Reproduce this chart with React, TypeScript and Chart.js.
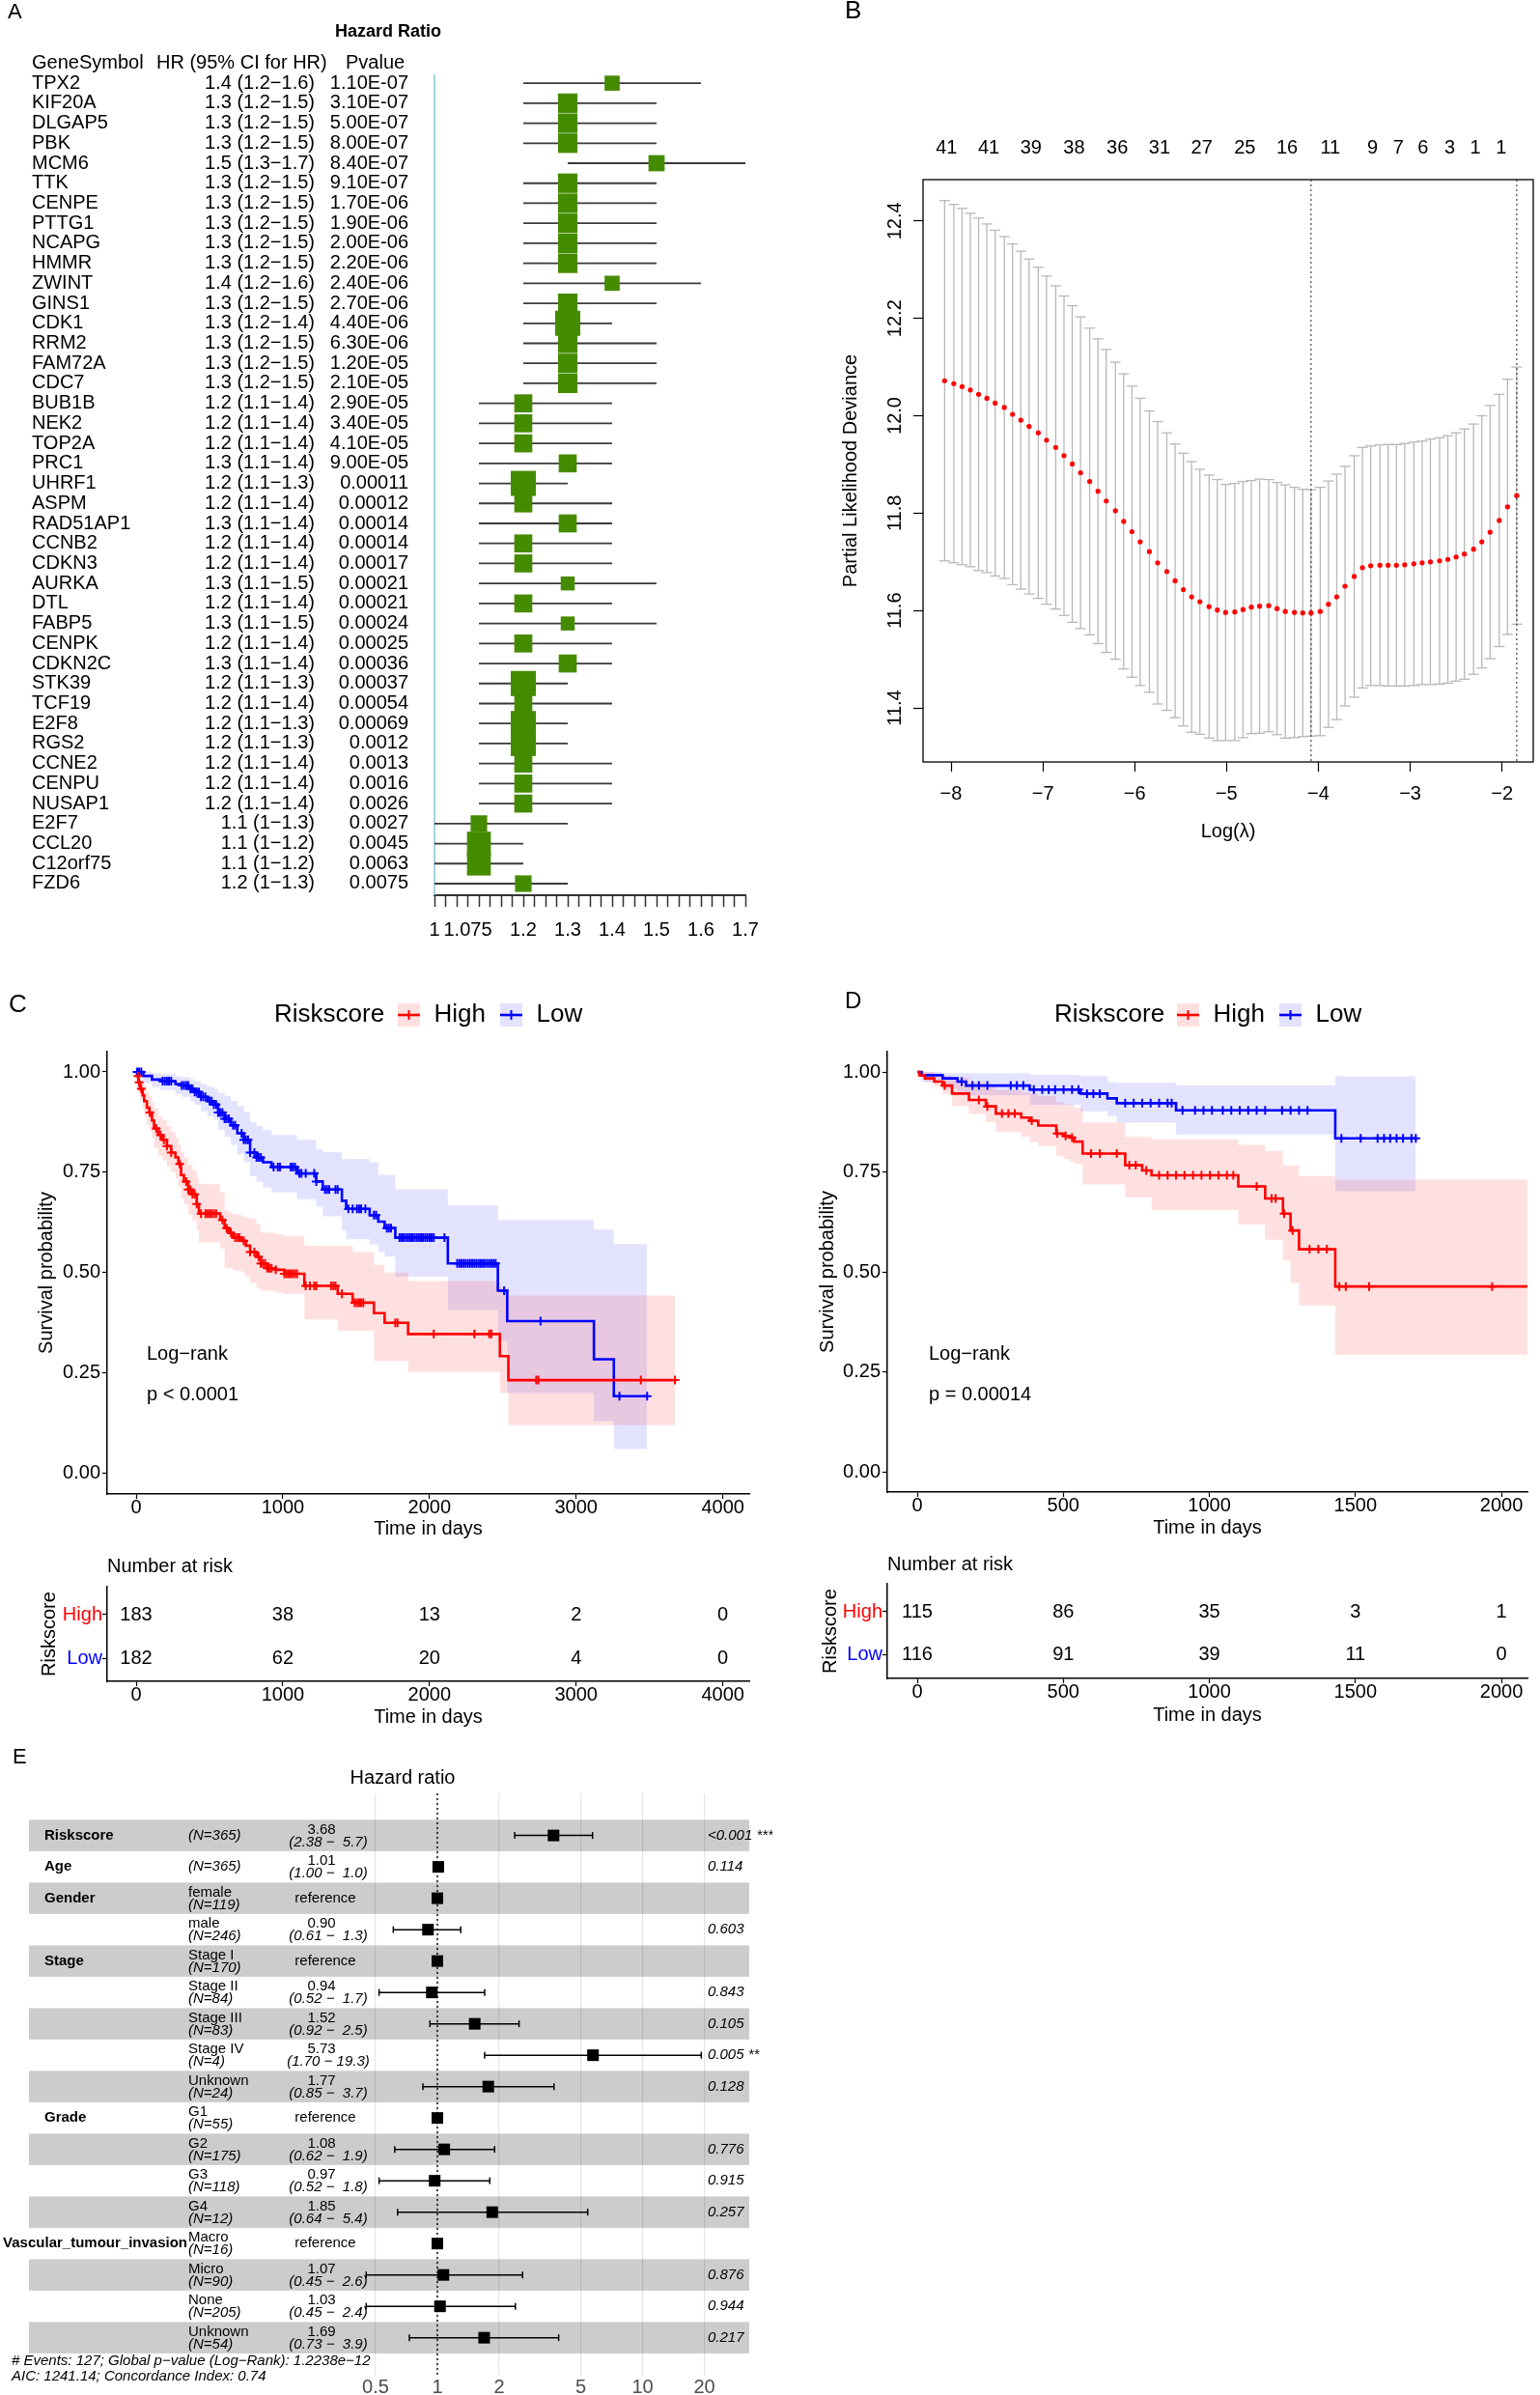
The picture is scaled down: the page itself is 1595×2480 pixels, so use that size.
import React, { useEffect, useRef } from 'react';
import { Chart, registerables } from 'chart.js';

Chart.register(...registerables);

const FONT = '"Liberation Sans", Arial, Helvetica, sans-serif';

// ================= Panel A : univariate Cox forest =================
const geneSymbols = ['TPX2','KIF20A','DLGAP5','PBK','MCM6','TTK','CENPE','PTTG1','NCAPG','HMMR','ZWINT','GINS1','CDK1','RRM2','FAM72A','CDC7','BUB1B','NEK2','TOP2A','PRC1','UHRF1','ASPM','RAD51AP1','CCNB2','CDKN3','AURKA','DTL','FABP5','CENPK','CDKN2C','STK39','TCF19','E2F8','RGS2','CCNE2','CENPU','NUSAP1','E2F7','CCL20','C12orf75','FZD6'];
const geneHR = [1.4,1.3,1.3,1.3,1.5,1.3,1.3,1.3,1.3,1.3, 1.4,1.3,1.3,1.3,1.3,1.3,1.2,1.2,1.2,1.3, 1.2,1.2,1.3,1.2,1.2,1.3,1.2,1.3,1.2,1.3, 1.2,1.2,1.2,1.2,1.2,1.2,1.2,1.1,1.1,1.1, 1.2];
const geneLower = [1.2,1.2,1.2,1.2,1.3,1.2,1.2,1.2,1.2,1.2, 1.2,1.2,1.2,1.2,1.2,1.2,1.1,1.1,1.1,1.1, 1.1,1.1,1.1,1.1,1.1,1.1,1.1,1.1,1.1,1.1, 1.1,1.1,1.1,1.1,1.1,1.1,1.1,1,1,1, 1];
const geneUpper = [1.6,1.5,1.5,1.5,1.7,1.5,1.5,1.5,1.5,1.5, 1.6,1.5,1.4,1.5,1.5,1.5,1.4,1.4,1.4,1.4, 1.3,1.4,1.4,1.4,1.4,1.5,1.4,1.5,1.4,1.4, 1.3,1.4,1.3,1.3,1.4,1.4,1.4,1.3,1.2,1.2, 1.3];
const genePvalue = ['1.10E-07','3.10E-07','5.00E-07','8.00E-07','8.40E-07','9.10E-07','1.70E-06','1.90E-06','2.00E-06','2.20E-06','2.40E-06','2.70E-06','4.40E-06','6.30E-06','1.20E-05','2.10E-05','2.90E-05','3.40E-05','4.10E-05','9.00E-05','0.00011','0.00012','0.00014','0.00014','0.00017','0.00021','0.00021','0.00024','0.00025','0.00036','0.00037','0.00054','0.00069','0.0012','0.0013','0.0016','0.0026','0.0027','0.0045','0.0063','0.0075'];
const geneAxisLabels = [1, 1.075, 1.2, 1.3, 1.4, 1.5, 1.6, 1.7];

// ================= Panel B : LASSO cross-validation =================
const lassoLogLambda = [-8.07,-7.97,-7.88,-7.79,-7.70,-7.61,-7.52,-7.42,-7.33,-7.24,
  -7.15,-7.05,-6.96,-6.86,-6.77,-6.68,-6.59,-6.49,-6.40,-6.31,
  -6.21,-6.12,-6.03,-5.94,-5.84,-5.75,-5.65,-5.56,-5.47,-5.38,
  -5.29,-5.19,-5.10,-5.01,-4.91,-4.82,-4.73,-4.64,-4.54,-4.45,
  -4.36,-4.26,-4.17,-4.08,-3.98,-3.89,-3.80,-3.71,-3.61,-3.52,
  -3.43,-3.33,-3.24,-3.15,-3.06,-2.96,-2.87,-2.78,-2.68,-2.59,
  -2.50,-2.41,-2.31,-2.22,-2.13,-2.03,-1.94,-1.84];
const lassoCvMean = [12.072,12.066,12.060,12.053,12.044,12.036,12.026,12.017,12.003,11.991,
  11.978,11.965,11.950,11.935,11.918,11.901,11.883,11.865,11.845,11.825,
  11.805,11.783,11.762,11.741,11.721,11.698,11.680,11.661,11.643,11.628,
  11.618,11.608,11.601,11.596,11.597,11.602,11.607,11.609,11.610,11.604,
  11.598,11.596,11.595,11.595,11.598,11.613,11.628,11.650,11.670,11.688,
  11.692,11.693,11.693,11.693,11.694,11.696,11.698,11.700,11.702,11.705,
  11.710,11.716,11.726,11.741,11.761,11.785,11.813,11.836];
const lassoCvSd = [0.370,0.368,0.366,0.363,0.362,0.358,0.355,0.351,0.350,0.347,
  0.344,0.340,0.337,0.332,0.328,0.325,0.320,0.315,0.313,0.311,
  0.305,0.303,0.299,0.295,0.289,0.290,0.285,0.281,0.280,0.278,
  0.272,0.270,0.268,0.263,0.264,0.263,0.260,0.261,0.259,0.259,
  0.260,0.257,0.254,0.253,0.255,0.253,0.252,0.246,0.248,0.247,
  0.246,0.247,0.248,0.248,0.249,0.250,0.250,0.252,0.253,0.254,
  0.255,0.257,0.257,0.259,0.260,0.259,0.262,0.264];
const lassoTopAt = [-8.05,-7.59,-7.13,-6.66,-6.19,-5.73,-5.27,-4.80,-4.34,-3.87,-3.41,-3.13,-2.86,-2.57,-2.29,-2.01];
const lassoTopLabels = ['41','41','39','38','36','31','27','25','16','11','9','7','6','3','1','1'];
const lassoXTicks = [-8,-7,-6,-5,-4,-3,-2];
const lassoYTicks = [11.4,11.6,11.8,12.0,12.2,12.4];
const lassoLambdaMin = -4.08;
const lassoLambda1se = -1.84;

// ================= Panel C : KM training set =================
const cHighTime = [0,6,15,26,44,55,73,90,108,122,151,180,210,239,268,288,306,326,355,384,413,428,573,603,632,661,719,748,777,821,850,894,952,1010,1147,1374,1476,1621,1694,1854,2480,2538,3674];
const cHighSurv = [1,0.990,0.974,0.958,0.942,0.927,0.911,0.899,0.879,0.859,0.843,0.831,0.815,0.799,0.787,0.771,0.743,0.727,0.707,0.695,0.671,0.647,0.631,0.611,0.599,0.587,0.579,0.567,0.551,0.539,0.523,0.511,0.507,0.497,0.467,0.447,0.425,0.399,0.375,0.347,0.292,0.232,0.232];
const cHighUpper = [1,1,0.995,0.985,0.975,0.965,0.95,0.94,0.925,0.91,0.89,0.88,0.865,0.85,0.835,0.82,0.80,0.785,0.77,0.755,0.735,0.72,0.70,0.655,0.65,0.645,0.64,0.637,0.635,0.62,0.60,0.599,0.595,0.591,0.567,0.567,0.551,0.519,0.50,0.479,0.463,0.443,0.443];
const cHighLower = [1,0.97,0.95,0.93,0.91,0.89,0.87,0.855,0.835,0.81,0.79,0.78,0.765,0.75,0.735,0.715,0.685,0.67,0.645,0.63,0.605,0.575,0.56,0.511,0.51,0.505,0.50,0.49,0.475,0.46,0.455,0.455,0.45,0.447,0.383,0.355,0.355,0.28,0.28,0.252,0.20,0.12,0.12];
const cHighCensor = [12,20,35,93,137,166,189,210,239,297,341,355,370,384,399,413,442,472,486,501,515,530,545,588,617,646,675,690,704,734,777,806,835,850,865,879,894,908,923,952,1010,1025,1039,1054,1068,1083,1097,1156,1185,1214,1228,1330,1345,1359,1403,1490,1505,1520,1534,1549,1767,1782,2029,2306,2407,2422,2728,2742,3441,3674];
const cLowTime = [0,49,108,166,268,311,370,399,442,486,530,559,603,646,690,734,777,821,865,923,1097,1228,1272,1403,1432,1592,1651,1694,1767,2125,2466,2530,3121,3257,3484];
const cLowSurv = [1,0.990,0.981,0.977,0.970,0.966,0.958,0.950,0.938,0.927,0.919,0.899,0.883,0.867,0.847,0.831,0.799,0.787,0.775,0.763,0.747,0.727,0.707,0.679,0.659,0.643,0.627,0.611,0.587,0.523,0.455,0.379,0.284,0.192,0.192];
const cLowUpper = [1,1,0.997,0.995,0.99,0.987,0.982,0.978,0.97,0.963,0.958,0.948,0.94,0.928,0.915,0.90,0.875,0.865,0.855,0.843,0.831,0.807,0.80,0.783,0.783,0.775,0.743,0.743,0.707,0.667,0.631,0.631,0.607,0.571,0.571];
const cLowLower = [1,0.972,0.962,0.955,0.945,0.938,0.928,0.918,0.902,0.89,0.88,0.856,0.838,0.818,0.795,0.775,0.74,0.726,0.712,0.70,0.683,0.665,0.64,0.605,0.583,0.57,0.551,0.54,0.49,0.407,0.33,0.20,0.13,0.06,0.06];
const cLowCensor = [6,20,35,180,195,210,224,239,311,326,341,355,370,384,399,413,428,442,457,472,501,515,530,545,559,573,588,603,617,632,661,675,719,734,748,763,777,806,821,835,850,937,966,981,1054,1068,1083,1112,1127,1156,1214,1228,1287,1301,1316,1359,1374,1447,1476,1505,1520,1534,1563,1621,1636,1709,1723,1738,1796,1811,1825,1840,1854,1869,1883,1898,1913,1927,1942,1956,1971,1985,2000,2014,2029,2102,2189,2204,2218,2233,2247,2262,2276,2291,2306,2320,2335,2349,2364,2378,2393,2407,2422,2437,2451,2509,2757,3295,3484];
const cRiskTimes = [0,1000,2000,3000,4000];
const cRiskHigh = [183,38,13,2,0];
const cRiskLow = [182,62,20,4,0];

// ================= Panel D : KM validation set =================
const dHighTime = [0,7,26,58,87,119,177,235,269,356,385,414,476,501,523,537,566,712,770,802,1099,1191,1252,1278,1307,1431,2200];
const dHighSurv = [1,0.992,0.984,0.976,0.966,0.946,0.930,0.914,0.896,0.886,0.878,0.866,0.846,0.840,0.836,0.826,0.796,0.767,0.754,0.742,0.714,0.684,0.646,0.604,0.557,0.464,0.464];
const dHighUpper = [1,1,1,0.99,0.99,0.986,0.975,0.962,0.955,0.95,0.945,0.94,0.925,0.92,0.918,0.91,0.874,0.838,0.838,0.832,0.818,0.802,0.766,0.766,0.74,0.731,0.731];
const dHighLower = [1,0.985,0.975,0.965,0.945,0.915,0.895,0.875,0.85,0.838,0.825,0.815,0.79,0.782,0.776,0.77,0.719,0.687,0.687,0.655,0.619,0.581,0.529,0.473,0.417,0.294,0.294];
const dHighCensor = [94,211,240,290,312,334,392,479,508,530,595,625,683,726,748,784,828,857,886,915,944,973,1002,1031,1060,1082,1162,1213,1227,1256,1285,1343,1373,1402,1445,1467,1547,1968];
const dLowTime = [0,15,87,138,167,385,559,651,683,886,1431,1707];
const dLowSurv = [1,0.992,0.984,0.976,0.966,0.956,0.946,0.934,0.922,0.904,0.834,0.834];
const dLowUpper = [1,1,0.997,0.997,0.997,0.993,0.99,0.975,0.973,0.966,0.989,0.989];
const dLowLower = [1,0.975,0.958,0.95,0.942,0.918,0.902,0.89,0.874,0.844,0.702,0.702];
const dLowCensor = [152,189,211,240,320,341,363,399,428,450,472,501,530,552,581,603,625,712,741,770,799,828,857,871,908,951,980,1009,1046,1075,1104,1133,1162,1191,1249,1278,1307,1336,1452,1518,1576,1598,1619,1641,1663,1692,1707];
const dRiskTimes = [0,500,1000,1500,2000];
const dRiskHigh = [115,86,35,3,1];
const dRiskLow = [116,91,39,11,0];

const kmYTicks = [0, 0.25, 0.5, 0.75, 1];

// ================= Panel E : multivariate Cox forest =================
const coxVariable = ['Riskscore','Age','Gender','','Stage','','','','','Grade','','','','Vascular_tumour_invasion','','',''];
const coxLevel = ['','','female','male','Stage I','Stage II','Stage III','Stage IV','Unknown','G1','G2','G3','G4','Macro','Micro','None','Unknown'];
const coxN = [365,365,119,246,170,84,83,4,24,55,175,118,12,16,90,205,54];
const coxHR = [3.68,1.01,null,0.90,null,0.94,1.52,5.73,1.77,null,1.08,0.97,1.85,null,1.07,1.03,1.69];
const coxLower = [2.38,1.00,null,0.61,null,0.52,0.92,1.70,0.85,null,0.62,0.52,0.64,null,0.45,0.45,0.73];
const coxUpper = [5.7,1.0,null,1.3,null,1.7,2.5,19.3,3.7,null,1.9,1.8,5.4,null,2.6,2.4,3.9];
const coxP = ['<0.001','0.114','','0.603','','0.843','0.105','0.005','0.128','','0.776','0.915','0.257','','0.876','0.944','0.217'];
const coxStars = ['***','','','','','','','**','','','','','','','','',''];
const coxAxisTicks = [0.5, 1, 2, 5, 10, 20];

// ================= helpers =================
function font(size, weight = 'normal', style = 'normal') {
  return `${style} ${weight} ${size}px ${FONT}`;
}
function text(ctx, s, x, y, fnt, color = '#000', align = 'left', rotate = 0) {
  ctx.save();
  ctx.font = fnt;
  ctx.fillStyle = color;
  ctx.textAlign = align;
  ctx.textBaseline = 'middle';
  if (rotate) {
    ctx.translate(x, y);
    ctx.rotate(rotate);
    ctx.fillText(s, 0, 0);
  } else {
    ctx.fillText(s, x, y);
  }
  ctx.restore();
}
function seg(ctx, x1, y1, x2, y2) {
  ctx.beginPath();
  ctx.moveTo(x1, y1);
  ctx.lineTo(x2, y2);
  ctx.stroke();
}
function survAt(times, surv, t) {
  let s = surv[0];
  for (let i = 0; i < times.length; i++) {
    if (times[i] <= t) s = surv[i];
    else break;
  }
  return s;
}
const tickFont = (size) => ({ family: FONT, size });
const fixedTicks = (vals) => (axis) => {
  axis.ticks = vals.map((v) => ({ value: v }));
};
const minusFmt = (v) => (v < 0 ? '\u2212' + Math.abs(v) : String(v));

function ChartCanvas({ left, top, width, height, build }) {
  const ref = useRef(null);
  useEffect(() => {
    const chart = new Chart(ref.current, build());
    return () => chart.destroy();
  }, []);
  return (
    <canvas
      ref={ref}
      width={width}
      height={height}
      style={{ position: 'absolute', left, top, width, height }}
    />
  );
}

const baseOptions = {
  responsive: false,
  animation: false,
  devicePixelRatio: 1,
  events: [],
};

// ================= Panel A =================
function buildA() {
  const boxSide = geneLower.map((lo, i) => Math.min(26, 4.5 / Math.log(geneUpper[i] / lo)));
  const aTicks = [];
  for (let k = 0; k <= 28; k++) aTicks.push(Math.round((1 + k * 0.025) * 1000) / 1000);
  const plugin = {
    id: 'forestA',
    beforeDatasetsDraw(chart) {
      const { ctx, chartArea: ca, scales } = chart;
      const x = scales.x, y = scales.y;
      ctx.save();
      ctx.strokeStyle = '#87c9d3';
      ctx.lineWidth = 1.5;
      seg(ctx, x.getPixelForValue(1), ca.top, x.getPixelForValue(1), ca.bottom);
      ctx.strokeStyle = '#3a3a3a';
      ctx.lineWidth = 1.8;
      geneSymbols.forEach((_, i) => {
        const yy = y.getPixelForValue(i + 1);
        seg(ctx, x.getPixelForValue(geneLower[i]), yy, x.getPixelForValue(geneUpper[i]), yy);
      });
      ctx.restore();
    },
    afterDraw(chart) {
      const { ctx, scales } = chart;
      const y = scales.y;
      text(ctx, 'A', 8, 13, font(22));
      text(ctx, 'Hazard Ratio', 402, 33, font(18, 'bold'), '#000', 'center');
      text(ctx, 'GeneSymbol', 33, 65, font(20));
      text(ctx, 'HR (95% CI for HR)', 162, 65, font(20));
      text(ctx, 'Pvalue', 358, 65, font(20));
      geneSymbols.forEach((g, i) => {
        const yy = y.getPixelForValue(i + 1);
        text(ctx, g, 33, yy, font(20));
        text(ctx, `${geneHR[i].toFixed(1)} (${geneLower[i]}\u2212${geneUpper[i]})`, 326, yy, font(20), '#000', 'right');
        text(ctx, genePvalue[i], 423, yy, font(20), '#000', 'right');
      });
    },
  };
  return {
    type: 'scatter',
    data: {
      datasets: [{
        data: geneHR.map((v, i) => ({ x: v, y: i + 1 })),
        pointStyle: 'rect',
        pointRadius: boxSide.map((s) => s / Math.SQRT2),
        pointBackgroundColor: '#458B00',
        pointBorderWidth: 0,
      }],
    },
    options: {
      ...baseOptions,
      layout: { padding: { left: 450, right: 28, top: 77, bottom: 0 } },
      plugins: { legend: { display: false }, tooltip: { enabled: false } },
      scales: {
        x: {
          type: 'linear', min: 1, max: 1.7,
          afterBuildTicks: fixedTicks(aTicks),
          afterFit: (s) => { s.height = 63; },
          ticks: {
            autoSkip: false, maxRotation: 0, padding: 12, color: '#000', font: tickFont(20),
            callback: (v) => (geneAxisLabels.some((l) => Math.abs(l - v) < 1e-6) ? String(v) : ''),
          },
          grid: { drawOnChartArea: false, drawTicks: true, tickLength: 12, tickColor: '#333', tickWidth: 1.5 },
          border: { display: true, color: '#333', width: 2 },
        },
        y: { type: 'linear', min: 0.56, max: 41.58, reverse: true, display: false },
      },
    },
    plugins: [plugin],
  };
}

// ================= Panel B =================
function buildB() {
  const plugin = {
    id: 'lasso',
    beforeDatasetsDraw(chart) {
      const { ctx, chartArea: ca, scales } = chart;
      const x = scales.x, y = scales.y;
      ctx.save();
      ctx.strokeStyle = '#b8b8b8';
      ctx.lineWidth = 1.3;
      lassoLogLambda.forEach((l, i) => {
        const xx = x.getPixelForValue(l);
        const y1 = y.getPixelForValue(lassoCvMean[i] - lassoCvSd[i]);
        const y2 = y.getPixelForValue(lassoCvMean[i] + lassoCvSd[i]);
        seg(ctx, xx, y1, xx, y2);
        seg(ctx, xx - 5.5, y1, xx + 5.5, y1);
        seg(ctx, xx - 5.5, y2, xx + 5.5, y2);
      });
      ctx.strokeStyle = '#444';
      ctx.lineWidth = 1.2;
      ctx.setLineDash([2, 3]);
      [lassoLambdaMin, lassoLambda1se].forEach((l) => {
        const xx = x.getPixelForValue(l);
        seg(ctx, xx, ca.top, xx, ca.bottom);
      });
      ctx.restore();
    },
    afterDraw(chart) {
      const { ctx, chartArea: ca, scales } = chart;
      const y = scales.y;
      ctx.save();
      ctx.strokeStyle = '#000';
      ctx.lineWidth = 1.3;
      ctx.strokeRect(ca.left, ca.top, ca.right - ca.left, ca.bottom - ca.top);
      ctx.restore();
      lassoYTicks.forEach((v) => {
        text(ctx, v.toFixed(1), 127, y.getPixelForValue(v), font(20), '#000', 'center', -Math.PI / 2);
      });
      text(ctx, 'B', 75, 12, font(26));
    },
  };
  return {
    type: 'scatter',
    data: {
      datasets: [{
        data: lassoLogLambda.map((l, i) => ({ x: l, y: lassoCvMean[i] })),
        pointRadius: 2.6,
        pointBackgroundColor: '#ff0000',
        pointBorderWidth: 0,
      }],
    },
    options: {
      ...baseOptions,
      layout: { padding: { left: 0, right: 7, top: 130, bottom: 0 } },
      plugins: { legend: { display: false }, tooltip: { enabled: false } },
      scales: {
        x: {
          type: 'linear', position: 'bottom', min: -8.305, max: -1.66,
          afterBuildTicks: fixedTicks(lassoXTicks),
          afterFit: (s) => { s.height = 161; },
          ticks: { autoSkip: false, maxRotation: 0, padding: 11, color: '#000', font: tickFont(20), callback: (v) => minusFmt(v) },
          grid: { drawOnChartArea: false, tickLength: 10, tickColor: '#000', tickWidth: 1.2 },
          border: { display: false },
          title: { display: true, text: 'Log(\u03bb)', color: '#000', font: tickFont(20), padding: { top: 0, bottom: 77 } },
        },
        xTop: {
          axis: 'x', type: 'linear', position: 'top', min: -8.305, max: -1.66,
          afterBuildTicks: fixedTicks(lassoTopAt),
          afterFit: (s) => { s.height = 56; },
          ticks: { autoSkip: false, maxRotation: 0, padding: 21, color: '#000', font: tickFont(20), callback: (v, i) => lassoTopLabels[i] },
          grid: { display: false, drawTicks: false },
          border: { display: false },
        },
        y: {
          type: 'linear', min: 11.289, max: 12.485,
          afterBuildTicks: fixedTicks(lassoYTicks),
          afterFit: (s) => { s.width = 156; },
          ticks: { display: false },
          grid: { drawOnChartArea: false, tickLength: 10, tickColor: '#000', tickWidth: 1.2 },
          border: { display: false },
          title: { display: true, text: 'Partial Likelihood Deviance', color: '#000', font: tickFont(20), padding: { top: 69, bottom: 0 } },
        },
      },
    },
    plugins: [plugin],
  };
}

// ================= KM panels =================
function kmAxisX(min, max, ticks, height, titlePad) {
  return {
    type: 'linear', min, max,
    afterBuildTicks: fixedTicks(ticks),
    afterFit: (s) => { s.height = height; },
    ticks: { autoSkip: false, maxRotation: 0, padding: -3, color: '#000', font: tickFont(20), callback: (v) => String(v) },
    grid: { drawOnChartArea: false, tickLength: 5, tickColor: '#000', tickWidth: 1.2 },
    border: { color: '#000', width: 1.5 },
    title: { display: true, text: 'Time in days', color: '#000', font: tickFont(20), padding: { top: 0, bottom: titlePad } },
  };
}

function buildKM(p) {
  const groups = [
    { t: p.highTime, s: p.highSurv, u: p.highUpper, l: p.highLower, c: p.highCensor, col: '#ff0000', band: 'rgba(255,0,0,0.12)' },
    { t: p.lowTime, s: p.lowSurv, u: p.lowUpper, l: p.lowLower, c: p.lowCensor, col: '#0000ff', band: 'rgba(0,0,255,0.11)' },
  ];
  const datasets = [];
  groups.forEach((g) => {
    datasets.push({
      type: 'line', data: g.t.map((t, i) => ({ x: t, y: g.u[i] })), stepped: true,
      borderWidth: 0, borderColor: 'transparent', pointRadius: 0, fill: false, order: 3,
    });
    datasets.push({
      type: 'line', data: g.t.map((t, i) => ({ x: t, y: g.l[i] })), stepped: true,
      borderWidth: 0, borderColor: 'transparent', pointRadius: 0, fill: '-1', backgroundColor: g.band, order: 3,
    });
  });
  groups.forEach((g) => {
    datasets.push({
      type: 'line', data: g.t.map((t, i) => ({ x: t, y: g.s[i] })), stepped: true,
      borderWidth: 2.6, borderColor: g.col, pointRadius: 0, fill: false, order: 2,
    });
    datasets.push({
      type: 'scatter', data: g.c.map((t) => ({ x: t, y: survAt(g.t, g.s, t) })),
      pointStyle: 'cross', pointRadius: 4.5, pointBorderColor: g.col, pointBorderWidth: 2, showLine: false, order: 1,
    });
  });
  const plugin = {
    id: 'kmDecor',
    afterDraw(chart) {
      const ctx = chart.ctx;
      text(ctx, p.letter, p.letterX, p.letterY, font(p.letterSize));
      text(ctx, 'Riskscore', p.legendX, 51, font(26));
      [['High', '#ff0000', 'rgba(255,0,0,0.12)', p.key1], ['Low', '#0000ff', 'rgba(0,0,255,0.11)', p.key2]].forEach(([lab, col, bg, kx]) => {
        ctx.save();
        ctx.fillStyle = bg;
        ctx.fillRect(kx, 39, 23, 24);
        ctx.strokeStyle = col;
        ctx.lineWidth = 2.6;
        seg(ctx, kx, 51, kx + 23, 51);
        ctx.lineWidth = 2;
        seg(ctx, kx + 11.5, 46, kx + 11.5, 56);
        ctx.restore();
        text(ctx, lab, kx + 37.5, 51, font(26));
      });
      text(ctx, 'Log\u2212rank', p.textX, 402, font(20));
      text(ctx, p.pText, p.textX, 444, font(20));
    },
  };
  return {
    type: 'line',
    data: { datasets },
    options: {
      ...baseOptions,
      layout: { padding: { left: 0, right: p.padRight, top: 89, bottom: 0 } },
      plugins: { legend: { display: false }, tooltip: { enabled: false } },
      scales: {
        x: kmAxisX(p.xMin, p.xMax, p.xTicks, p.xHeight, p.xTitlePad),
        y: {
          type: 'linear', min: p.yMin, max: p.yMax,
          afterBuildTicks: fixedTicks(kmYTicks),
          afterFit: (s) => { s.width = p.yWidth; },
          ticks: { padding: 2, color: '#000', font: tickFont(20), callback: (v) => Number(v).toFixed(2) },
          grid: { drawOnChartArea: false, tickLength: 5, tickColor: '#000', tickWidth: 1.2 },
          border: { color: '#000', width: 1.5 },
          title: { display: true, text: 'Survival probability', color: '#000', font: tickFont(20), padding: { top: p.yTitlePad, bottom: 0 } },
        },
      },
    },
    plugins: [plugin],
  };
}

function buildRisk(p) {
  const plugin = {
    id: 'riskTable',
    afterDraw(chart) {
      const { ctx, scales } = chart;
      const x = scales.x, y = scales.y;
      text(ctx, 'Number at risk', p.titleX, p.titleY, font(20));
      p.times.forEach((t, i) => {
        text(ctx, String(p.high[i]), x.getPixelForValue(t), y.getPixelForValue(1), font(20), '#000', 'center');
        text(ctx, String(p.low[i]), x.getPixelForValue(t), y.getPixelForValue(2), font(20), '#000', 'center');
      });
    },
  };
  return {
    type: 'scatter',
    data: { datasets: [{ data: [], pointRadius: 0 }] },
    options: {
      ...baseOptions,
      layout: { padding: { left: 0, right: p.padRight, top: p.padTop, bottom: 0 } },
      plugins: { legend: { display: false }, tooltip: { enabled: false } },
      scales: {
        x: kmAxisX(p.xMin, p.xMax, p.times, p.xHeight, p.xTitlePad),
        y: {
          type: 'linear', reverse: true, min: p.yMin, max: p.yMax,
          afterBuildTicks: fixedTicks([1, 2]),
          afterFit: (s) => { s.width = p.yWidth; },
          ticks: {
            padding: 0, font: tickFont(20),
            callback: (v) => (v === 1 ? 'High' : 'Low'),
            color: (c) => (c.tick && c.tick.value === 1 ? '#ff0000' : '#0000ff'),
          },
          grid: { drawOnChartArea: false, tickLength: 5, tickColor: '#000', tickWidth: 1.2 },
          border: { color: '#000', width: 1.5 },
          title: { display: true, text: 'Riskscore', color: '#000', font: tickFont(20), padding: { top: p.yTitlePad, bottom: 0 } },
        },
      },
    },
    plugins: [plugin],
  };
}

const buildC = () => buildKM({
  highTime: cHighTime, highSurv: cHighSurv, highUpper: cHighUpper, highLower: cHighLower, highCensor: cHighCensor,
  lowTime: cLowTime, lowSurv: cLowSurv, lowUpper: cLowUpper, lowLower: cLowLower, lowCensor: cLowCensor,
  xMin: -197.5, xMax: 4180, xTicks: cRiskTimes, yMin: -0.0517, yMax: 1.0505,
  padRight: 24, xHeight: 53, yWidth: 111, xTitlePad: 5, yTitlePad: 36,
  letter: 'C', letterX: 9, letterY: 41, letterSize: 26,
  legendX: 284, key1: 412, key2: 518, textX: 152, pText: 'p < 0.0001',
});
const buildCRisk = () => buildRisk({
  times: cRiskTimes, high: cRiskHigh, low: cRiskLow, xMin: -197.5, xMax: 4180,
  padRight: 24, padTop: 43, xHeight: 59, yWidth: 111, xTitlePad: 10, yTitlePad: 39,
  yMin: 0.356, yMax: 2.533, titleX: 111, titleY: 22,
});
const buildD = () => buildKM({
  highTime: dHighTime, highSurv: dHighSurv, highUpper: dHighUpper, highLower: dHighLower, highCensor: dHighCensor,
  lowTime: dLowTime, lowSurv: dLowSurv, lowUpper: dLowUpper, lowLower: dLowLower, lowCensor: dLowCensor,
  xMin: -102.5, xMax: 2089, xTicks: dRiskTimes, yMin: -0.0495, yMax: 1.0507,
  padRight: 13, xHeight: 55, yWidth: 119, xTitlePad: 6, yTitlePad: 45,
  letter: 'D', letterX: 75, letterY: 37, letterSize: 24,
  legendX: 292, key1: 419, key2: 525, textX: 162, pText: 'p = 0.00014',
});
const buildDRisk = () => buildRisk({
  times: dRiskTimes, high: dRiskHigh, low: dRiskLow, xMin: -102.5, xMax: 2089,
  padRight: 13, padTop: 40, xHeight: 62, yWidth: 119, xTitlePad: 12, yTitlePad: 48,
  yMin: 0.341, yMax: 2.568, titleX: 119, titleY: 20,
});

// ================= Panel E =================
function buildE() {
  const plugin = {
    id: 'coxForest',
    beforeDatasetsDraw(chart) {
      const { ctx, chartArea: ca, scales } = chart;
      const x = scales.x, y = scales.y;
      ctx.save();
      ctx.fillStyle = 'rgba(0,0,0,0.2)';
      coxLevel.forEach((_, i) => {
        if (i % 2 === 0) {
          const a = y.getPixelForValue(i + 0.5), b = y.getPixelForValue(i + 1.5);
          ctx.fillRect(ca.left, Math.min(a, b), ca.right - ca.left, Math.abs(b - a));
        }
      });
      ctx.strokeStyle = '#000';
      ctx.lineWidth = 1.4;
      ctx.setLineDash([2, 3]);
      seg(ctx, x.getPixelForValue(1), ca.top, x.getPixelForValue(1), ca.bottom);
      ctx.setLineDash([]);
      ctx.restore();

      coxLevel.forEach((lev, i) => {
        const rc = y.getPixelForValue(i + 1);
        if (coxVariable[i]) {
          ctx.save();
          ctx.font = font(15, 'bold');
          const w = ctx.measureText(coxVariable[i]).width;
          ctx.restore();
          const x0 = Math.max(0, Math.min(46, 194 - w));
          text(ctx, coxVariable[i], x0, rc, font(15, 'bold'));
        }
        if (lev) {
          text(ctx, lev, 195, rc - 6, font(15));
          text(ctx, `(N=${coxN[i]})`, 195, rc + 7, font(15, 'normal', 'italic'));
        } else {
          text(ctx, `(N=${coxN[i]})`, 195, rc, font(15, 'normal', 'italic'));
        }
        if (coxHR[i] === null) {
          text(ctx, 'reference', 337, rc, font(15), '#000', 'center');
        } else {
          const hi = coxUpper[i] < 10 ? ' ' + coxUpper[i].toFixed(1) : coxUpper[i].toFixed(1);
          text(ctx, coxHR[i].toFixed(2), 333, rc - 6, font(15), '#000', 'center');
          text(ctx, `(${coxLower[i].toFixed(2)} \u2212 ${hi})`, 340, rc + 7, font(15, 'normal', 'italic'), '#000', 'center');
        }
        if (coxP[i]) {
          text(ctx, coxP[i] + (coxStars[i] ? ' ' + coxStars[i] : ''), 733, rc, font(15, 'normal', 'italic'));
        }
      });

      ctx.save();
      ctx.strokeStyle = '#000';
      ctx.lineWidth = 1.5;
      coxHR.forEach((hr, i) => {
        if (hr === null) return;
        const rc = y.getPixelForValue(i + 1);
        const x1 = x.getPixelForValue(coxLower[i]), x2 = x.getPixelForValue(coxUpper[i]);
        seg(ctx, x1, rc, x2, rc);
        seg(ctx, x1, rc - 3.5, x1, rc + 3.5);
        seg(ctx, x2, rc - 3.5, x2, rc + 3.5);
      });
      ctx.restore();
    },
    afterDraw(chart) {
      const ctx = chart.ctx;
      text(ctx, 'E', 13, 20, font(22));
      text(ctx, 'Hazard ratio', 417, 41, font(20), '#000', 'center');
      text(ctx, '# Events: 127; Global p\u2212value (Log\u2212Rank): 1.2238e\u221212', 12, 645, font(15, 'normal', 'italic'));
      text(ctx, 'AIC: 1241.14; Concordance Index: 0.74', 12, 661, font(15, 'normal', 'italic'));
    },
  };
  return {
    type: 'scatter',
    data: {
      datasets: [{
        data: coxHR.map((v, i) => ({ x: v === null ? 1 : v, y: i + 1 })),
        pointStyle: 'rect',
        pointRadius: 8.5,
        pointBackgroundColor: '#000',
        pointBorderWidth: 0,
      }],
    },
    options: {
      ...baseOptions,
      layout: { padding: { left: 30, right: 24, top: 57, bottom: 0 } },
      plugins: { legend: { display: false }, tooltip: { enabled: false } },
      scales: {
        x: {
          type: 'logarithmic', min: 0.01024, max: 33.06,
          afterBuildTicks: fixedTicks(coxAxisTicks),
          afterFit: (s) => { s.height = 20; },
          ticks: { autoSkip: false, maxRotation: 0, padding: 0, color: '#4d4d4d', font: tickFont(20), callback: (v) => String(v) },
          grid: { color: '#e6e6e6', lineWidth: 1.3, drawTicks: false },
          border: { display: false },
        },
        y: { type: 'linear', min: -0.342, max: 18.21, reverse: true, display: false },
      },
    },
    plugins: [plugin],
  };
}

export default function App() {
  return (
    <div style={{ position: 'absolute', left: 0, top: 0, width: 1595, height: 2480, background: '#fff', overflow: 'hidden' }}>
      <ChartCanvas left={0} top={0} width={800} height={990} build={buildA} />
      <ChartCanvas left={800} top={0} width={795} height={950} build={buildB} />
      <ChartCanvas left={0} top={1000} width={800} height={600} build={buildC} />
      <ChartCanvas left={0} top={1600} width={800} height={200} build={buildCRisk} />
      <ChartCanvas left={800} top={1000} width={795} height={600} build={buildD} />
      <ChartCanvas left={800} top={1600} width={795} height={200} build={buildDRisk} />
      <ChartCanvas left={0} top={1800} width={800} height={680} build={buildE} />
    </div>
  );
}
